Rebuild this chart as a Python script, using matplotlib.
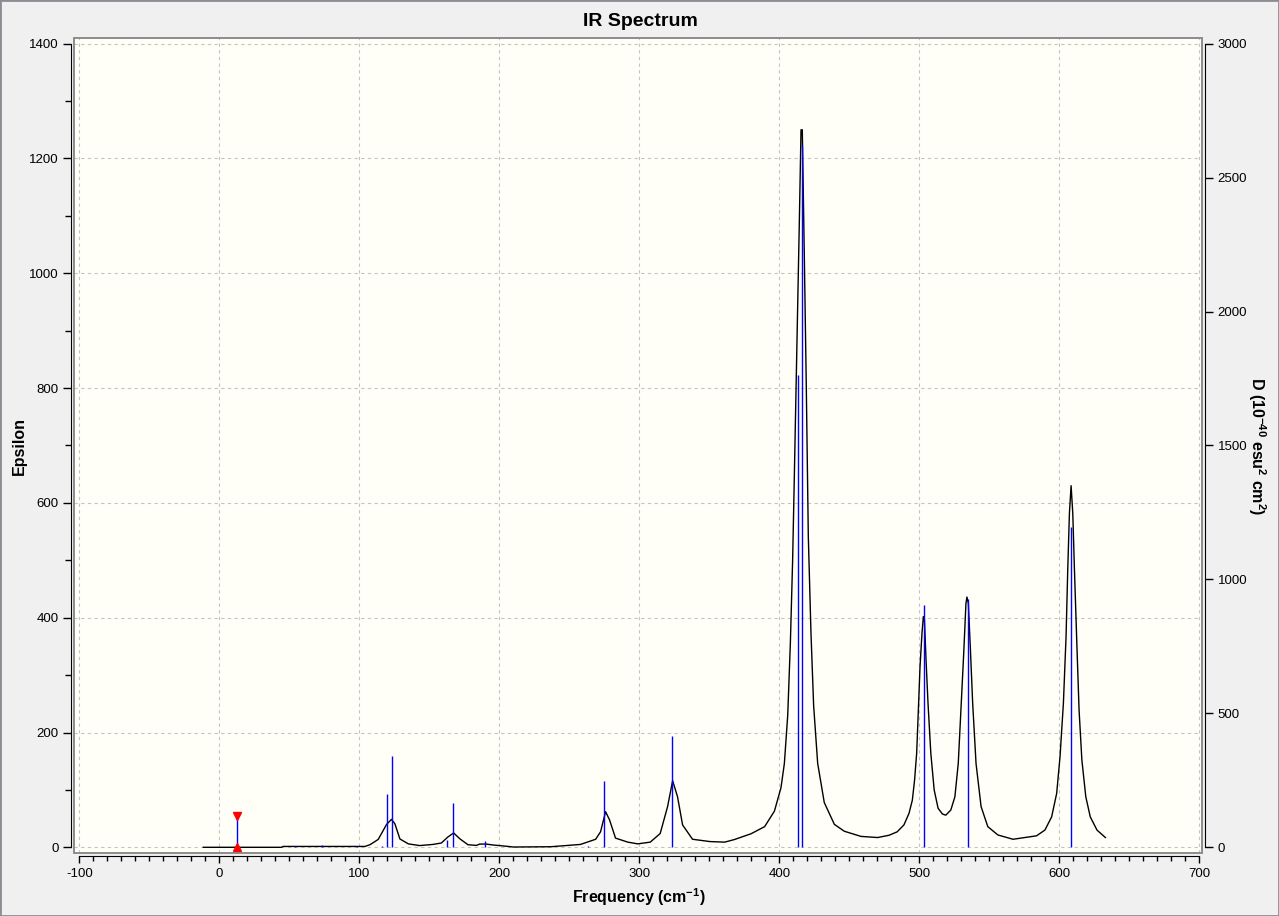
import matplotlib.pyplot as plt
from matplotlib.patches import Rectangle
from matplotlib.ticker import MultipleLocator

plt.rcParams['font.family'] = ['Liberation Sans', 'DejaVu Sans']
plt.rcParams['mathtext.default'] = 'regular'
plt.rcParams['axes.unicode_minus'] = False

# broadened spectrum, epsilon vs frequency
freq = [-11.4, 44.5, 45.5, 104, 107.6, 113.5, 119.5, 123, 125.4, 129, 135, 143,
        152.6, 158.6, 163.3, 167.4, 171.7, 177.6, 183.6, 186, 190.7, 195.5, 200.2,
        210.2, 236.8, 258, 268.8, 272.3, 275.9, 278.7, 283, 291.8, 298.9, 307.8,
        314.9, 320.2, 323.8, 327.3, 330.9, 338, 350.4, 361, 367.9, 379.8, 389.5,
        396.5, 401.2, 403.6, 406, 407.9, 409.5, 410.7, 412.6, 414.3, 415.5, 416.4,
        417.9, 419.3, 420.7, 422.6, 424.5, 427.4, 432.1, 439.3, 446.4, 458.3, 470.2,
        478.4, 484.2, 489, 492.6, 495, 496.6, 498.1, 499.3, 500.5, 501.9, 502.9,
        503.6, 504.8, 506.2, 508.2, 510.6, 513.4, 516.5, 518.9, 522.5, 525.4, 527.8,
        529.7, 531.7, 533.3, 534, 535, 536.5, 538.1, 540.5, 544.1, 548.9, 556.1,
        566.9, 575.3, 583.7, 589.7, 594.5, 598.1, 600.5, 602.9, 604.8, 606, 607.2,
        608.4, 609.6, 610.8, 612.5, 614.1, 616.1, 618.9, 622.1, 626.9, 632.9]
epsilon = [0, 0, 1.5, 1.5, 4.5, 13.7, 40, 48.7, 41, 14.5, 6, 3,
           5, 7.5, 18, 25, 15, 4.5, 3.3, 5.6, 5.6, 4, 3,
           0.5, 1, 5, 14, 27, 62, 48, 16, 9, 6, 9,
           24, 71, 116, 88, 39, 14, 10, 9, 13.5, 23.6, 36,
           63, 104, 146, 230, 357, 500, 644, 880, 1091, 1250, 1250,
           1023, 796, 542, 374, 247, 146, 78, 40, 28, 19, 17,
           21, 27, 39, 59, 82, 117, 164, 239, 315, 373, 402,
           399, 326, 251, 164, 100, 68, 58, 56, 65, 88, 146,
           239, 338, 425, 436, 425, 344, 251, 146, 71, 36, 21.5,
           14, 17, 20, 30, 53, 94, 158, 251, 367, 483, 582,
           630, 582, 483, 355, 239, 152, 88, 53, 30, 17]

# stick spectrum, dipole strength D
stick_freq = [54.3, 73.6, 98.1, 116.4, 120.0, 123.6, 162.9, 167.1, 190.0, 263.6,
              275.0, 323.6, 413.6, 416.4, 503.4, 534.5, 608.4]
stick_d = [3, 10, 3, 4, 199, 341, 27, 166, 25, 4,
           246, 416, 1764, 2621, 904, 926, 1195]

# imaginary mode
imag_freq = 12.9
imag_d = 117

W, H = 1279, 916
fig = plt.figure(figsize=(W / 100, H / 100), dpi=100, facecolor='#f0f0f0')
fig.patches.append(Rectangle((0, 0), 1, 1, transform=fig.transFigure, fill=False,
                             edgecolor='#8a8d93', lw=2))

box_l, box_r, box_t, box_b = 74.3, 1202, 38.3, 853.3
ax = fig.add_axes([box_l / W, 1 - box_b / H, (box_r - box_l) / W, (box_b - box_t) / H])
ax.set_facecolor('#fffff7')
ax.set_xlim(-103.57, 701.9)
ax.set_ylim(-10.45, 1409.4)

for s in ['top', 'right']:
    ax.spines[s].set_visible(False)
ax.spines['left'].set_position(('outward', 2.3))
ax.spines['left'].set_bounds(0, 1400)
ax.spines['bottom'].set_position(('outward', 2.0))
ax.spines['bottom'].set_bounds(-100, 700)
ax.add_patch(Rectangle((0, 0), 1, 1, transform=ax.transAxes, fill=False,
                       edgecolor='#8c8c8c', lw=1.4, clip_on=False, zorder=5))

ax.set_xticks(range(-100, 701, 100))
ax.xaxis.set_minor_locator(MultipleLocator(10))
ax.set_yticks(range(0, 1401, 200))
ax.yaxis.set_minor_locator(MultipleLocator(100))
ax.tick_params(axis='x', which='major', length=5, width=1, pad=3.5, labelsize=9.5)
ax.tick_params(axis='x', which='minor', length=3.6, width=1)
ax.tick_params(axis='y', which='major', length=5.8, width=1, pad=3.2, labelsize=9.5)
ax.tick_params(axis='y', which='minor', length=4.3, width=1)
ax.grid(True, which='major', linestyle=(0, (3, 3)), color='#c4c4c4', lw=0.8)

ax.plot(freq, epsilon, color='black', lw=1.0, zorder=3)

ax2 = ax.twinx()
ax2.set_ylim(-10.45 * 3000 / 1400, 1409.4 * 3000 / 1400)
for s in ['top', 'left', 'bottom']:
    ax2.spines[s].set_visible(False)
ax2.spines['right'].set_position(('outward', 2.3))
ax2.spines['right'].set_bounds(0, 3000)
ax2.set_yticks(range(0, 3001, 500))
ax2.tick_params(axis='y', which='major', length=5.8, width=1, pad=3.2, labelsize=9.5)

ax2.vlines(stick_freq, 0, stick_d, color='#0000ff', lw=1.0, zorder=4)
ax2.vlines([imag_freq], 0, [imag_d], color='#0000ff', lw=1.0, zorder=4)
ax2.plot([imag_freq], [imag_d], marker='v', color='red', ms=6, ls='none', zorder=6)
ax2.plot([imag_freq], [0], marker='^', color='red', ms=6, ls='none', zorder=6)

fig.text(640 / W, 1 - 21 / H, 'IR Spectrum', ha='center', va='center',
         fontsize=14, fontweight='bold')
fig.text(639.3 / W, 1 - 897 / H, 'Frequency (cm$^{-1}$)', ha='center', va='center',
         fontsize=11.5, fontweight='bold')
fig.text(19 / W, 1 - 446 / H, 'Epsilon', ha='center', va='center', rotation=90,
         fontsize=11.5, fontweight='bold')
fig.text(1257 / W, 1 - 446 / H, 'D (10$^{-40}$ esu$^{2}$ cm$^{2}$)', ha='center',
         va='center', rotation=270, fontsize=11.5, fontweight='bold')

fig.savefig('out.png', dpi=100, facecolor=fig.get_facecolor())
